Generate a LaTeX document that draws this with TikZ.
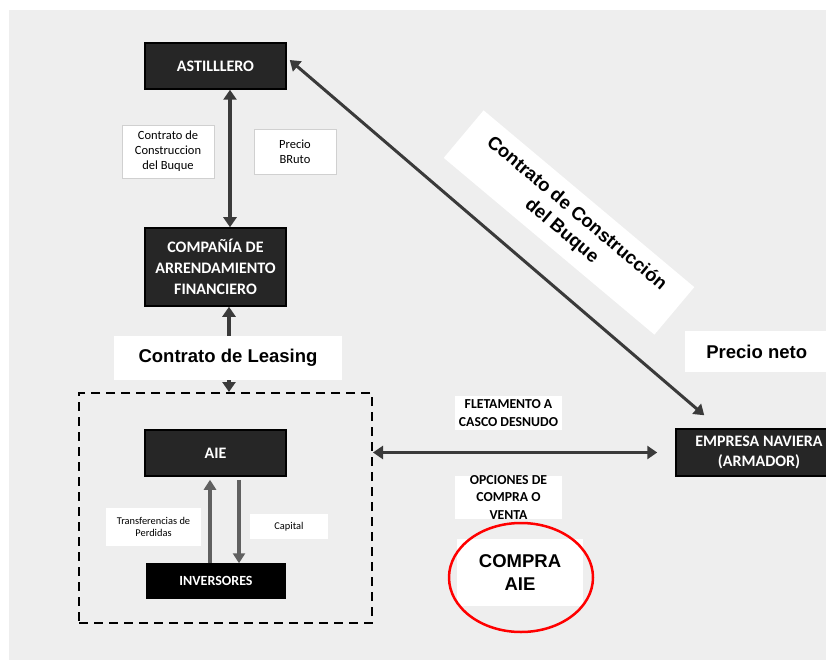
\documentclass[tikz,border=0pt]{standalone}
\usepackage{fontspec}
\setmainfont{Carlito}
\newfontfamily\arialfont{Liberation Sans}
\usetikzlibrary{arrows.meta,shapes.geometric}

\definecolor{fondo}{HTML}{EEEEEE}
\definecolor{cajagris}{HTML}{262626}
\definecolor{flecha}{HTML}{3A3A3A}
\definecolor{flechaclara}{HTML}{606060}
\definecolor{bordeclaro}{HTML}{D0D0D0}

\tikzset{
  caja/.style={draw=black, line width=1.5pt, fill=cajagris, text=white, align=center, inner sep=0pt, font=\bfseries\fontsize{16}{20.7}\selectfont},
  etiqueta/.style={fill=white, align=center, inner sep=0pt, font=\fontsize{12.5}{15}\selectfont},
  grande/.style={fill=white, align=center, inner sep=0pt, font=\arialfont\bfseries\fontsize{18.5}{23}\selectfont},
  flechas/.style={draw=flecha, line width=3.5pt, {Triangle[width=13pt,length=10pt]}-{Triangle[width=13pt,length=10pt]}},
  flechagris/.style={draw=flechaclara, line width=4pt, -{Triangle[width=12pt,length=10pt]}}
}

\begin{document}
\begin{tikzpicture}[x=1pt,y=-1pt]
\clip (0,0) rectangle (826,660);
\fill [white] (0,0) rectangle (826,660);
\fill [fondo] (9,10) rectangle (826,660);
% bloques
\node (astillero) [caja, minimum width=141pt, minimum height=46pt] at (215.5,66) {ASTILLLERO};
\node (compania) [caja, minimum width=141pt, minimum height=78pt] at (215.5,267) {COMPAÑÍA DE\\ARRENDAMIENTO\\FINANCIERO};
\node (grupo) [draw=black, line width=2pt, dash pattern=on 9pt off 6pt, minimum width=293pt, minimum height=230pt, inner sep=0pt] at (225.5,508) {};
\node (aie) [caja, minimum width=141pt, minimum height=46pt] at (215.5,453) {AIE};
\node (inversores) [caja, fill=black, font=\bfseries\fontsize{14}{17}\selectfont, minimum width=138pt, minimum height=34pt] at (216,581) {INVERSORES};
\node (naviera) [caja, minimum width=166pt, minimum height=47pt, font=\bfseries\fontsize{16}{20}\selectfont] at (759,452.5) {EMPRESA NAVIERA\\(ARMADOR)};
% etiquetas
\node (lblconst) [etiqueta, draw=bordeclaro, minimum width=92pt, minimum height=53pt] at (168,151.5) {Contrato de\\Construccion\\del Buque};
\node (lblbruto) [etiqueta, draw=bordeclaro, minimum width=82pt, minimum height=45pt] at (295,151.5) {Precio\\BRuto};
\node (lblperd) [etiqueta, font=\fontsize{10.4}{12.7}\selectfont, minimum width=95pt, minimum height=38pt] at (153.5,527) {Transferencias de\\Perdidas};
\node (lblcap) [etiqueta, font=\fontsize{10.4}{12.7}\selectfont, minimum width=78pt, minimum height=25pt] at (289,526.5) {Capital};
\node (fletam) [etiqueta, font=\bfseries\fontsize{13.7}{17.3}\selectfont, minimum width=107pt, minimum height=34pt] at (508.5,413) {FLETAMENTO A\\CASCO DESNUDO};
\node (opciones) [etiqueta, font=\bfseries\fontsize{13.7}{17.3}\selectfont, minimum width=107pt, minimum height=43pt] at (508.5,497.5) {OPCIONES DE\\COMPRA O\\VENTA};
\node (contrato) [grande, rotate=-40, minimum width=275pt, minimum height=62pt] at (569,222.5) {Contrato de Construcción\\del Buque};
\node (precioneto) [grande, minimum width=143pt, minimum height=41pt] at (756.7,351.5) {Precio neto};
% conectores
\draw [flechas] ([xshift=14.5pt]astillero.south) -- ([xshift=14.5pt]compania.north);
\draw [flechas] ([xshift=13.5pt]compania.south) -- ([xshift=13.5pt]compania.south |- grupo.north);
\node (leasing) [grande, minimum width=228pt, minimum height=44pt] at (228,358) {Contrato de Leasing};
\draw [flechas, line width=3pt] ([shift={(3pt,6pt)}]astillero.east) -- ([shift={(29pt,13pt)}]naviera.north west);
\draw [flechas] (grupo.east |- naviera.west) -- ([xshift=-18pt]naviera.west);
\draw [flechagris] ([xshift=-5.5pt]inversores.north -| aie.south) -- ([xshift=-5.5pt,yshift=-3pt]aie.south);
\draw [flechagris] ([xshift=23.5pt,yshift=-3pt]aie.south) -- ([xshift=23pt]inversores.north);
% compra
\node (compra) [grande, font=\arialfont\bfseries\fontsize{18.5}{23.3}\selectfont, minimum width=126pt, minimum height=67pt] at (520,572.5) {COMPRA\\AIE};
\node (circulo) [ellipse, draw=red, line width=2.5pt, minimum width=144pt, minimum height=109pt, inner sep=0pt] at (521,577.5) {};
\end{tikzpicture}
\end{document}
